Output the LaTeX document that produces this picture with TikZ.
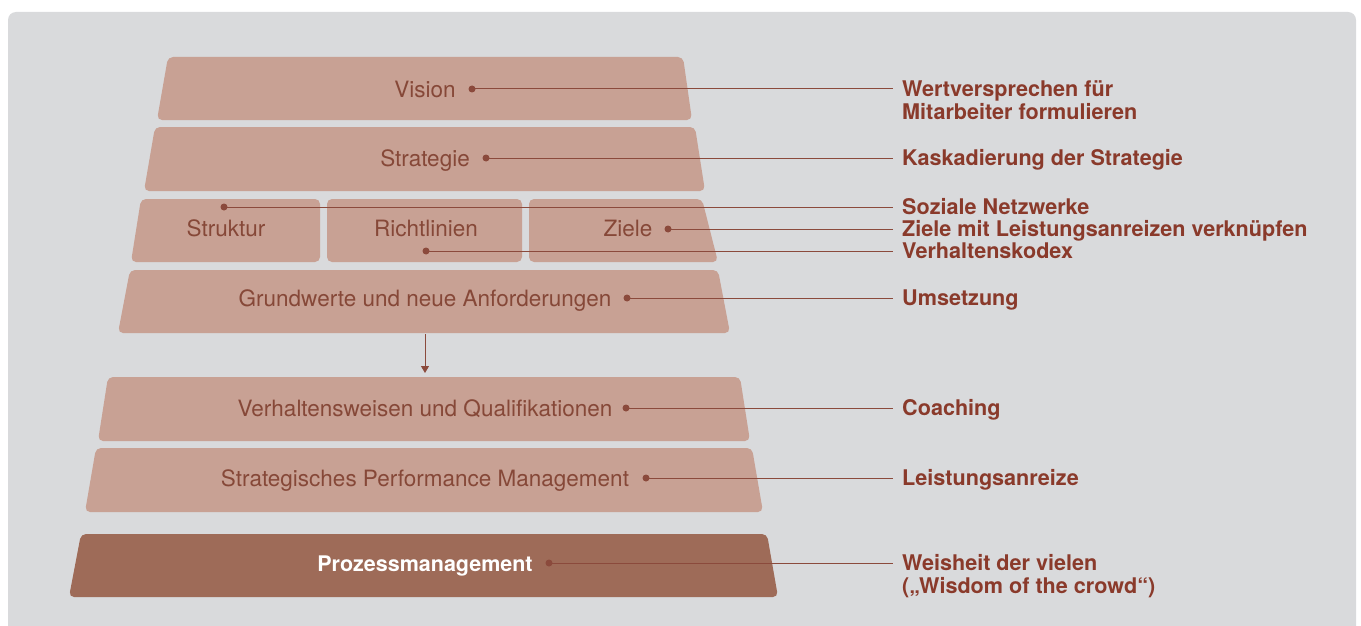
\documentclass[tikz,border=0pt]{standalone}
\usepackage{fontspec}
\setmainfont{TeX Gyre Heros}
\usetikzlibrary{arrows.meta}
\definecolor{bg}{HTML}{D9DADC}
\definecolor{boxc}{HTML}{C8A194}
\definecolor{darkbox}{HTML}{9E6B58}
\definecolor{txt}{HTML}{864838}
\definecolor{lbl}{HTML}{8A3A2B}
\definecolor{ln}{HTML}{8B4A3C}
\tikzset{
  layer/.style={fill=boxc, rounded corners=5pt},
  darklayer/.style={fill=darkbox, rounded corners=5pt},
  boxtext/.style={font=\fontsize{22.5}{24}\selectfont, text=txt, inner sep=0pt, anchor=base},
  lbltext/.style={font=\fontsize{21.6}{23}\selectfont\bfseries, text=lbl, anchor=base west, align=left, inner sep=0pt},
  dotc/.style={circle, fill=ln, inner sep=0pt, minimum size=7pt},
  conn/.style={draw=ln, line width=1pt},
}
\begin{document}
\begin{tikzpicture}[x=1pt,y=-1pt]
\useasboundingbox (0,0) rectangle (1361,626);
\fill[bg, rounded corners=8pt] (8,12) rectangle (1356,660);
% layers
\fill[layer] (168,57) -- (683,57) -- (692,120) -- (157,120) -- cycle;
\fill[layer] (155,127) -- (695,127) -- (705,191) -- (144,191) -- cycle;
\fill[layer] (141,199) -- (320,199) -- (320,262) -- (131,262) -- cycle;
\fill[layer] (327,199) -- (522,199) -- (522,262) -- (327,262) -- cycle;
\fill[layer] (529,199) -- (702,199) -- (718,262) -- (529,262) -- cycle;
\fill[layer] (130,270) -- (718,270) -- (730,333) -- (118,333) -- cycle;
\fill[layer] (108,377) -- (740,377) -- (750,441) -- (98,441) -- cycle;
\fill[layer] (96,448) -- (752,448) -- (763,512) -- (85,512) -- cycle;
\fill[darklayer] (81,534) -- (767,534) -- (778,597) -- (69,597) -- cycle;
% texts
\node[boxtext] (tVis) at (425,97) {Vision};
\node[boxtext] (tStrat) at (425,166) {Strategie};
\node[boxtext] (tStruk) at (226,236) {Struktur};
\node[boxtext] (tRicht) at (426,236) {Richtlinien};
\node[boxtext] (tZiele) at (628,236) {Ziele};
\node[boxtext] (tGrund) at (425,306) {Grundwerte und neue Anforderungen};
\node[boxtext] (tVerh) at (425,416) {Verhaltensweisen und Qualifikationen};
\node[boxtext] (tSPM) at (425,486) {Strategisches Performance Management};
\node[boxtext, text=white, font=\fontsize{21.5}{24}\selectfont\bfseries] (tProz) at (425,571) {Prozessmanagement};
% line ends
\coordinate (e1) at (893,89);
\coordinate (e2) at (893,158);
\coordinate (e3) at (893,207);
\coordinate (e4) at (893,229);
\coordinate (e5) at (893,251);
\coordinate (e6) at (893,298);
\coordinate (e7) at (893,408);
\coordinate (e8) at (893,478);
\coordinate (e9) at (893,563);
% dots
\node[dotc] (d1) at (472,89) {};
\node[dotc] (d2) at (486,158) {};
\node[dotc] (d3) at (224,207) {};
\node[dotc] (d4) at (668,229) {};
\node[dotc] (d5) at (426,251) {};
\node[dotc] (d6) at (627,298) {};
\node[dotc] (d7) at (626,408) {};
\node[dotc] (d8) at (646,478) {};
\node[dotc] (d9) at (549,563) {};
% connectors
\foreach \i in {1,...,9} { \draw[conn] (d\i.center) -- (e\i); }
% arrow
\coordinate (a1) at (425,334);
\coordinate (a2) at (425,373);
\draw[conn, -{Triangle[length=7pt,width=8pt]}] (a1) -- (a2);
% labels
\node[lbltext] (l1) at (902,119) {Wertversprechen für\\Mitarbeiter formulieren};
\node[lbltext] (l2) at (902,165) {Kaskadierung der Strategie};
\node[lbltext] (l3) at (902,214) {Soziale Netzwerke};
\node[lbltext] (l4) at (902,236) {Ziele mit Leistungsanreizen verknüpfen};
\node[lbltext] (l5) at (902,258) {Verhaltenskodex};
\node[lbltext] (l6) at (902,305) {Umsetzung};
\node[lbltext] (l7) at (902,415) {Coaching};
\node[lbltext] (l8) at (902,485) {Leistungsanreize};
\node[lbltext] (l9) at (902,593) {Weisheit der vielen\\(„Wisdom of the crowd“)};
\end{tikzpicture}
\end{document}
